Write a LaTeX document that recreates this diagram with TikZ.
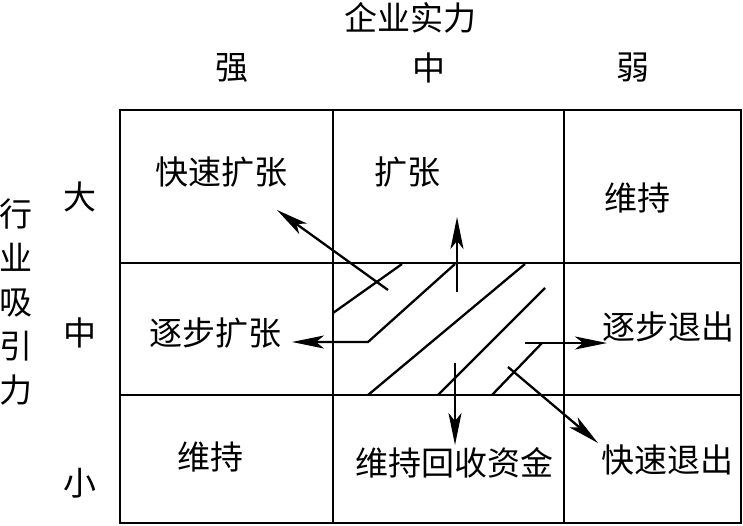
\documentclass[tikz,border=0pt]{standalone}
\usepackage{fontspec}
\newfontfamily\cjk{Noto Sans CJK SC}
\usetikzlibrary{arrows.meta}
\begin{document}
\begin{tikzpicture}[x=1pt,y=-1pt,
  grid/.style={line width=2.6pt},
  hatch/.style={line width=2.3pt},
  arr/.style={line width=2.3pt,-{Stealth[length=32pt,width=13pt,inset=8pt]}},
  lbl/.style={font=\cjk\fontsize{33}{38}\selectfont,inner sep=0pt,anchor=center}]
\useasboundingbox (0,0) rectangle (743,525);
% grid
\draw[grid] (120,110) rectangle (741,523);
\draw[grid] (333,110) -- (333,523);
\draw[grid] (564,110) -- (564,523);
\draw[grid] (120,263) -- (741,263);
\draw[grid] (120,395) -- (741,395);
% headings
\node[lbl] (title) at (410,18) {企业实力};
\node[lbl] (hs) at (232,68) {强};
\node[lbl] (hm) at (429,68) {中};
\node[lbl] (hw) at (633,68) {弱};
\node[lbl,align=center,font=\cjk\fontsize{33}{44}\selectfont] (vt) at (16,302) {行\\业\\吸\\引\\力};
\node[lbl] (rb) at (80,197) {大};
\node[lbl] (rm) at (80,333) {中};
\node[lbl] (rs) at (80,483) {小};
% cell texts
\node[lbl] (c11) at (221,172) {快速扩张};
\node[lbl] (c12) at (407,172) {扩张};
\node[lbl] (c13) at (637,198) {维持};
\node[lbl] (c21) at (215,333) {逐步扩张};
\node[lbl] (c23) at (668,327) {逐步退出};
\node[lbl] (c31) at (210,457) {维持};
\node[lbl] (c32) at (454,463) {维持回收资金};
\node[lbl] (c33) at (667,460) {快速退出};
% hatch coordinates
\coordinate (a1) at (333,313); \coordinate (a2) at (402,264);
\coordinate (b1) at (455,264); \coordinate (b2) at (368,342); \coordinate (b3) at (292,342);
\coordinate (d1) at (525,264); \coordinate (d2) at (368,395);
\coordinate (e1) at (545,288); \coordinate (e2) at (438,395);
\coordinate (f1) at (542,343); \coordinate (f2) at (492,395);
\coordinate (g1) at (525,343); \coordinate (g2) at (607,343);
\coordinate (u1) at (457,292); \coordinate (u2) at (457,217);
\coordinate (l1) at (388,290); \coordinate (l2) at (277,210);
\coordinate (m1) at (455,363); \coordinate (m2) at (455,445);
\coordinate (r1) at (508,367); \coordinate (r2) at (598,443);
\draw[hatch] (a1) -- (a2);
\draw[hatch] (d1) -- (d2);
\draw[hatch] (e1) -- (e2);
\draw[hatch] (f1) -- (f2);
\draw[arr,line join=miter] (b1) -- (b2) -- (b3);
\draw[arr] (g1) -- (g2);
\draw[arr] (u1) -- (u2);
\draw[arr] (l1) -- (l2);
\draw[arr] (m1) -- (m2);
\draw[arr] (r1) -- (r2);
\end{tikzpicture}
\end{document}
